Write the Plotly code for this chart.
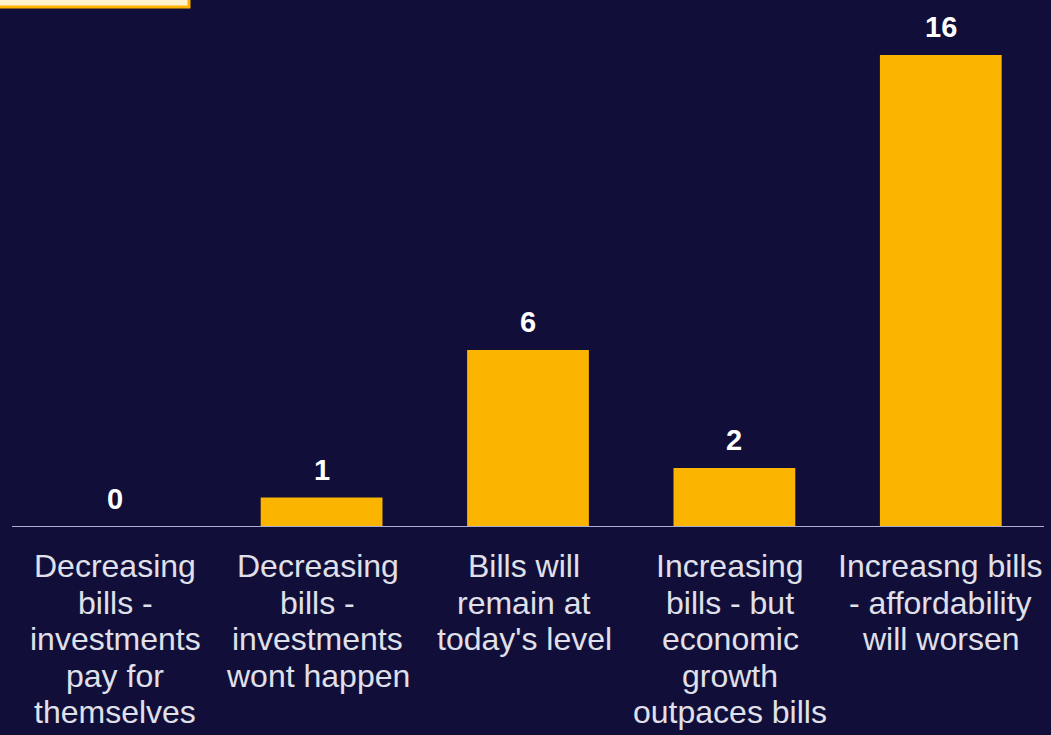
import plotly.graph_objects as go

# Survey responses: expected direction of bills
categories = [
    "Decreasing<br>bills -<br>investments<br>pay for<br>themselves",
    "Decreasing<br>bills -<br>investments<br>wont happen",
    "Bills will<br>remain at<br>today's level",
    "Increasing<br>bills - but<br>economic<br>growth<br>outpaces bills",
    "Increasng bills<br>- affordability<br>will worsen",
]
counts = [0, 1, 6, 2, 16]

BG = "#110F39"
BAR = "#FBB400"
LABEL = "#E0E0EA"
FONT = "Liberation Sans, Arial, sans-serif"

fig = go.Figure(
    go.Bar(
        x=list(range(len(categories))),
        y=counts,
        marker=dict(color=BAR, line=dict(width=0)),
        width=0.59,
        hoverinfo="skip",
    )
)

annotations = []
# value labels above each bar
for i, v in enumerate(counts):
    annotations.append(dict(
        x=i, y=v, xref="x", yref="y", text=f"<b>{v}</b>", showarrow=False,
        yanchor="bottom", yshift=10,
        font=dict(family=FONT, size=29, color="#FFFFFF"),
    ))
# multi-line category labels under the axis (inner labels nudged slightly left)
label_nudge = lambda i: 0 if i in (0, len(categories) - 1) else -4
for i, cat in enumerate(categories):
    for j, line in enumerate(cat.split("<br>")):
        annotations.append(dict(
            x=i, y=0, xref="x", yref="y", text=line, showarrow=False,
            yanchor="middle", yshift=-(39 + j * 36.5), xshift=label_nudge(i),
            font=dict(family=FONT, size=32, color=LABEL),
        ))

fig.update_layout(
    width=1051, height=735,
    margin=dict(l=12, r=7, t=0, b=208),
    paper_bgcolor=BG, plot_bgcolor=BG,
    showlegend=False,
    xaxis=dict(
        range=[-0.5, len(categories) - 0.5],
        showticklabels=False, showgrid=False, zeroline=False,
        showline=False, ticks="",
    ),
    yaxis=dict(
        range=[0, 527 / 29.5],
        showticklabels=False, showgrid=False, zeroline=False,
        showline=False, ticks="",
    ),
    annotations=annotations,
    shapes=[
        # baseline
        dict(type="line", xref="paper", yref="y", x0=0, x1=1, y0=0, y1=0,
             line=dict(color="#ACABD2", width=2)),
        # title box edge at the top-left
        dict(type="rect", xref="paper", yref="paper",
             x0=-0.02, x1=0.1715, y0=0.9865, y1=1.05,
             fillcolor="#FFF2CC", line=dict(color="#FFB300", width=3)),
    ],
)

fig.write_html("out.html")
